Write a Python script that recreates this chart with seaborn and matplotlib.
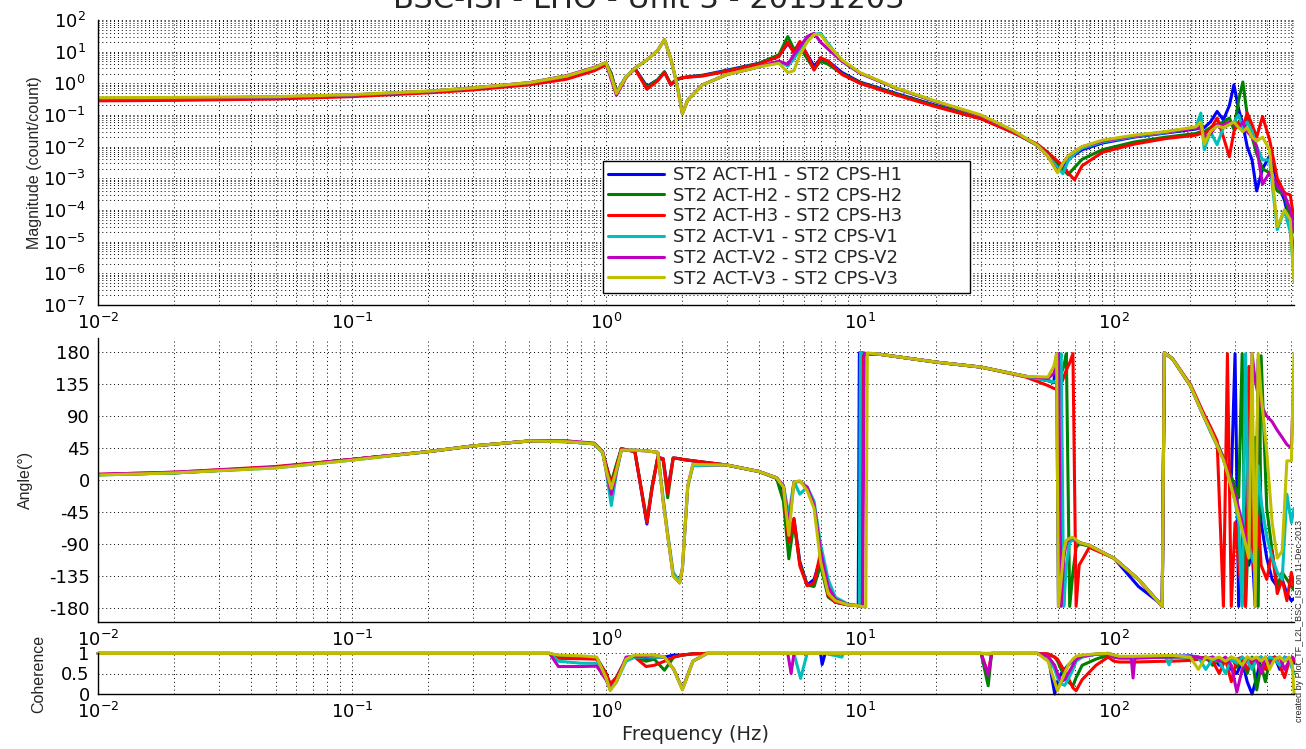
import matplotlib
matplotlib.use("Agg")
import matplotlib.pyplot as plt
from matplotlib.ticker import LogLocator, NullFormatter, NullLocator
import numpy as np
import pandas as pd
import seaborn as sns

# ---------------- data ----------------
series_names = [
    "ST2 ACT-H1 - ST2 CPS-H1",
    "ST2 ACT-H2 - ST2 CPS-H2",
    "ST2 ACT-H3 - ST2 CPS-H3",
    "ST2 ACT-V1 - ST2 CPS-V1",
    "ST2 ACT-V2 - ST2 CPS-V2",
    "ST2 ACT-V3 - ST2 CPS-V3",
]
series_colors = ["#0000ff", "#008000", "#ff0000", "#00bfbf", "#bf00bf", "#bfbf00"]

title_text = "BSC-ISI - LHO - Unit 3 - 20131203"
credit_text = "created by Plot_TF_L2L_BSC_ISI on 11-Dec-2013"

# magnitude panel
freq_mag = [0.01, 0.02, 0.05, 0.1, 0.2, 0.3, 0.5, 0.7, 0.9, 1.0,
            1.05, 1.1, 1.2, 1.3, 1.45, 1.6, 1.7, 1.8, 1.9, 2.0, 2.1, 2.4,
            3.0, 4.0, 4.8, 5.2, 5.5, 5.8, 6.2, 6.6, 7.0, 7.5, 8.5,
            10, 14, 20, 30, 40, 50, 55, 60, 63, 66, 70, 75, 90, 120, 160,
            210, 220, 227, 240, 255, 270, 285, 297, 310, 322, 335, 350, 365, 385, 410, 440, 470, 495, 512]
mag_H1 = [0.32, 0.33, 0.36, 0.42, 0.55, 0.70, 1.0, 1.6, 3.0, 4.5,
          2.0, 0.5, 1.6, 3.0, 0.8, 1.3, 2.3, 0.9, 1.3, 1.5, 1.6, 1.8,
          2.6, 4.3, 7.5, 18, 10, 20, 8, 3.5, 6, 5, 2.2,
          1.1, 0.47, 0.2, 0.085, 0.03, 0.011, 0.006, 0.0025, 0.0018, 0.004, 0.0055, 0.008, 0.013, 0.02, 0.027,
          0.036, 0.04, 0.04, 0.06, 0.13, 0.07, 0.2, 0.9, 0.15, 0.05, 0.01, 0.0038, 0.0004, 0.002, 0.005, 0.0008, 0.0002, 3e-5, 2e-6]
mag_H2 = [0.31, 0.32, 0.35, 0.41, 0.54, 0.68, 0.98, 1.55, 2.9, 4.3,
          2.0, 0.5, 1.6, 2.9, 0.75, 1.3, 2.3, 0.95, 1.3, 1.5, 1.6, 1.75,
          2.5, 4.2, 8, 30, 12, 15, 6, 2.8, 5, 4, 2.0,
          1.05, 0.45, 0.19, 0.082, 0.029, 0.011, 0.0065, 0.003, 0.002, 0.0013, 0.0022, 0.004, 0.008, 0.014, 0.02,
          0.026, 0.03, 0.03, 0.04, 0.05, 0.06, 0.08, 0.035, 0.3, 1.1, 0.1, 0.02, 0.006, 0.002, 0.0015, 0.0004, 0.0003, 5e-5, 3e-6]
mag_H3 = [0.28, 0.29, 0.32, 0.38, 0.50, 0.62, 0.9, 1.35, 2.5, 3.8,
          1.7, 0.5, 1.6, 2.9, 0.65, 1.2, 2.2, 0.9, 1.4, 1.5, 1.55, 1.7,
          2.4, 4.0, 7, 20, 9, 21, 8, 2.6, 6.5, 5, 1.9,
          1.0, 0.42, 0.18, 0.075, 0.028, 0.012, 0.0065, 0.0035, 0.0025, 0.0015, 0.0009, 0.0025, 0.0066, 0.012, 0.018,
          0.023, 0.026, 0.025, 0.035, 0.08, 0.02, 0.0048, 0.03, 0.06, 0.04, 0.115, 0.05, 0.02, 0.09, 0.017, 0.001, 0.00034, 0.0003, 5e-5]
mag_V1 = [0.33, 0.34, 0.37, 0.43, 0.56, 0.72, 1.05, 1.7, 3.1, 4.5,
          1.5, 0.48, 1.6, 3.0, 5.5, 11, 24, 6, 1.0, 0.11, 0.3, 0.9,
          1.9, 3.3, 5, 3.5, 6, 12, 25, 35, 38, 18, 5,
          2.1, 0.68, 0.26, 0.095, 0.032, 0.011, 0.005, 0.0022, 0.0014, 0.0035, 0.006, 0.009, 0.014, 0.021, 0.028,
          0.04, 0.115, 0.008, 0.03, 0.0115, 0.04, 0.05, 0.06, 0.1, 0.04, 0.06, 0.03, 0.01, 0.0038, 0.0038, 2.4e-5, 1e-4, 2e-5, 8e-7]
mag_V2 = [0.33, 0.34, 0.37, 0.43, 0.56, 0.72, 1.05, 1.75, 3.2, 4.5,
          1.3, 0.42, 1.5, 3.0, 5.5, 11, 24, 6, 1.0, 0.11, 0.3, 0.9,
          1.9, 3.3, 5, 4, 8, 14, 30, 38, 20, 12, 5,
          2.1, 0.68, 0.26, 0.095, 0.032, 0.011, 0.005, 0.0016, 0.003, 0.005, 0.007, 0.01, 0.015, 0.022, 0.029,
          0.038, 0.04, 0.02, 0.025, 0.05, 0.05, 0.06, 0.05, 0.04, 0.06, 0.03, 0.02, 0.01, 0.00065, 0.0015, 0.0006, 0.0003, 0.0001, 2e-5]
mag_V3 = [0.35, 0.36, 0.38, 0.44, 0.57, 0.72, 1.05, 1.7, 3.1, 4.6,
          1.6, 0.48, 1.6, 3.0, 5.5, 11, 24, 6, 1.0, 0.11, 0.3, 0.9,
          1.9, 3.3, 4.3, 2.2, 2.5, 8, 20, 35, 35, 16, 5.5,
          2.2, 0.7, 0.27, 0.1, 0.033, 0.011, 0.005, 0.0015, 0.003, 0.005, 0.007, 0.01, 0.016, 0.023, 0.03,
          0.042, 0.06, 0.012, 0.03, 0.045, 0.04, 0.05, 0.06, 0.04, 0.03, 0.04, 0.02, 0.015, 0.02, 0.008, 3e-5, 1e-4, 5e-5, 5.5e-7]

# phase panel (degrees, wrapped to +-180)
freq_phase = [0.01, 0.02, 0.05, 0.1, 0.2, 0.3, 0.5, 0.7, 0.9, 0.97,
              1.0, 1.05, 1.1, 1.15, 1.3, 1.45, 1.52, 1.6, 1.68, 1.75, 1.84, 1.95, 2.0, 2.1, 2.2,
              3.0, 4.0, 4.7, 5.0, 5.25, 5.5, 5.8, 6.2, 6.6, 7.0, 7.5, 8.0, 9.0,
              9.85, 9.95, 10.05, 10.15, 10.25, 10.4, 10.55, 10.7, 12,
              20, 30, 45, 55, 58,
              59.5, 60.5, 62, 63.5, 65, 67, 69, 71, 73, 80,
              100, 125, 150, 155, 158,
              170, 200, 225, 240, 255, 270, 280, 290, 300, 310, 320, 330, 340, 350, 360, 370, 380, 400, 420, 440, 460, 480, 500, 512]
phase_H1 = [7.5, 10, 18, 29, 40, 48, 55, 54, 51, 39,
            22, -5, 20, 44, 40, -62, -10, 32, 30, -15, 31, 30, 29, 28, 27,
            21, 12, 3, -15, -80, -55, -115, -148, -140, -110, -163, -172, -176,
            -177, 179, 179, 178.5, 178.5, 178, 178, 177.5, 177,
            166, 159, 146, 140, 137,
            178, -178, -150, -100, -88, -84, -84, -86, -88, -93,
            -110, -150, -172, -178, 179,
            171, 133, 91, 70, 50, 30, 15, 0, 178, -178, -90, -40, -120, -95, -178, 170, -60, -110, -140, -150, -140, -160, -170, -167]
phase_H2 = [7.5, 10, 18, 29, 40, 48, 55, 54, 51, 39,
            20, -3, 22, 44, 40, -58, -8, 32, 28, -25, 31, 30, 29, 28, 27,
            21, 12, 2, -30, -111, -60, -118, -148, -150, -120, -165, -172, -176,
            -177, -177.5, -178, -178, 179, 178, 178, 177.5, 177,
            166, 159, 146, 140, 138,
            138, 140, 150, 160, 178, -178, -130, -95, -90, -93,
            -110, -140, -172, -178, 179,
            171, 133, 92, 72, 52, 32, 18, 5, -10, -25, 178, -178, -60, 20, 60, -178, 175, -40, -100, -150, -130, -140, -150, -155]
phase_H3 = [8, 11, 19, 29, 40, 48, 55, 55, 51, 40,
            22, -8, 18, 44, 40, -60, -12, 32, 30, -19, 31, 30, 29, 28, 27,
            21, 12, 3, -10, -88, -54, -121, -149, -145, -102, -163, -172, -176,
            -177, -177.5, -178, 179, 178.5, 178, 178, 177.5, 177,
            166, 159, 145, 133, 129,
            128, 128, 135, 145, 155, 165, 178, -178, -120, -95,
            -110, -140, -172, -178, 179,
            171, 135, 95, 75, 55, -178, 178, -178, -60, -120, -160, -178, 160, -100, -140, -50, -120, -140, -100, -160, -140, -170, -130, -150]
phase_V1 = [7, 10, 17, 28, 40, 48, 55, 54, 51, 39,
            15, -36, 10, 42, 42, 41, 40, 39, -25, -75, -130, -143, -125, -10, 20,
            21, 12, 3, -8, -50, -2, -20, -10, -30, -90, -140, -165, -175,
            -177, -177.5, 179, 178.5, 178.5, 178, 178, 177.5, 177,
            166, 159, 146, 140, 138,
            140, 150, 178, -178, -120, -88, -84, -85, -88, -92,
            -110, -140, -172, -178, 179,
            171, 133, 91, 68, 48, 30, 10, -10, -30, -60, -178, 178, -90, -110, -120, 20, -30, -80, -110, -130, -140, -20, -60, -40]
phase_V2 = [8, 11, 18, 29, 40, 48, 55, 55, 52, 40,
            15, -20, 12, 42, 42, 41, 40, 39, -30, -78, -135, -145, -125, -8, 22,
            21, 12, 3, -8, -65, -3, -2, -10, -35, -100, -150, -168, -176,
            -177, -177.5, -178, -178, -178.5, 179, 178, 177.5, 177,
            166, 159, 146, 143, 150,
            160, 178, -178, -110, -88, -83, -82, -85, -88, -92,
            -110, -140, -172, -178, 179,
            171, 133, 92, 70, 50, 30, 12, -5, -20, -40, -60, -80, -100, 178, 140, 120, 105, 90, 82, 70, 60, 50, 45, 150]
phase_V3 = [7, 10, 17, 28, 40, 48, 55, 54, 51, 39,
            15, -12, 14, 42, 42, 41, 40, 39, -30, -78, -135, -145, -125, -8, 22,
            21, 12, 3, -10, -78, -3, -1, -15, -40, -115, -160, -170, -176,
            -177, -177.5, -178, -178, -178.5, -178.5, -179, 179, 177,
            166, 159, 146, 145, 160,
            178, -178, -140, -100, -85, -82, -81, -84, -88, -92,
            -110, -140, -172, -178, 179,
            171, 133, 91, 70, 49, 28, 10, -10, -30, -50, -70, -90, -110, 178, -178, 178, 120, 40, -60, -110, -100, 27, 27, 178]

# coherence panel
freq_coh = [0.01, 0.6, 0.65, 0.8, 0.92, 1.0, 1.04, 1.1, 1.2, 1.3, 1.44, 1.55, 1.7, 1.85, 2.0, 2.2, 2.5,
            5.2, 5.36, 5.5, 5.84, 6.2, 7.0, 7.1, 7.3, 8.5, 8.6, 8.8, 29, 30, 32, 33, 34,
            50, 55, 58.5, 60, 62, 64, 66, 69, 71, 75, 85, 95, 100, 105,
            117, 119, 121, 160, 165, 170, 200, 215, 230, 245, 260, 275, 290, 305, 320, 335, 350, 365, 380, 395, 410, 430, 450, 470, 490, 505, 512]
coh_H1 = [0.99, 0.99, 0.92, 0.9, 0.88, 0.5, 0.2, 0.4, 0.85, 0.92, 0.85, 0.9, 0.9, 0.95, 0.95, 0.98, 0.99,
          0.99, 0.99, 0.99, 0.99, 0.99, 0.99, 0.72, 0.99, 0.99, 0.99, 0.99, 0.99, 0.99, 0.98, 0.99, 0.99,
          0.99, 0.95, 0.0, 0.3, 0.5, 0.6, 0.7, 0.8, 0.85, 0.92, 0.97, 0.99, 0.95, 0.9,
          0.9, 0.9, 0.9, 0.92, 0.92, 0.92, 0.93, 0.9, 0.85, 0.9, 0.7, 0.85, 0.6, 0.5, 0.8, 0.3, 0.0, 0.4, 0.9, 0.7, 0.85, 0.9, 0.6, 0.9, 0.85, 0.8, 0.75]
coh_H2 = [0.99, 0.99, 0.9, 0.88, 0.86, 0.5, 0.22, 0.4, 0.85, 0.9, 0.8, 0.85, 0.58, 0.9, 0.95, 0.98, 0.99,
          0.99, 0.99, 0.99, 0.99, 0.99, 0.99, 0.99, 0.99, 0.99, 0.99, 0.99, 0.99, 0.99, 0.2, 0.99, 0.99,
          0.99, 0.97, 0.9, 0.8, 0.6, 0.45, 0.3, 0.2, 0.4, 0.7, 0.85, 0.95, 0.92, 0.88,
          0.88, 0.88, 0.88, 0.9, 0.9, 0.9, 0.9, 0.85, 0.9, 0.7, 0.85, 0.8, 0.9, 0.65, 0.85, 0.5, 0.9, 0.1, 0.7, 0.3, 0.8, 0.9, 0.7, 0.85, 0.8, 0.85, 0.8]
coh_H3 = [0.99, 0.99, 0.87, 0.86, 0.85, 0.5, 0.25, 0.4, 0.85, 0.9, 0.67, 0.7, 0.8, 0.9, 0.95, 0.98, 0.99,
          0.99, 0.99, 0.99, 0.99, 0.99, 0.99, 0.99, 0.99, 0.99, 0.99, 0.99, 0.99, 0.99, 0.5, 0.99, 0.99,
          0.99, 0.98, 0.9, 0.85, 0.7, 0.55, 0.4, 0.15, 0.08, 0.35, 0.7, 0.9, 0.8, 0.78,
          0.78, 0.78, 0.78, 0.8, 0.8, 0.8, 0.82, 0.85, 0.9, 0.8, 0.5, 0.85, 0.3, 0.85, 0.9, 0.6, 0.8, 0.85, 0.9, 0.6, 0.85, 0.9, 0.7, 0.4, 0.8, 0.85, 0.8]
coh_V1 = [0.99, 0.99, 0.8, 0.75, 0.75, 0.4, 0.1, 0.3, 0.8, 0.9, 0.9, 0.9, 0.9, 0.6, 0.12, 0.8, 0.99,
          0.99, 0.99, 0.99, 0.38, 0.99, 0.99, 0.99, 0.99, 0.9, 0.99, 0.99, 0.99, 0.99, 0.99, 0.99, 0.99,
          0.99, 0.9, 0.6, 0.4, 0.25, 0.21, 0.35, 0.6, 0.8, 0.9, 0.97, 0.99, 0.9, 0.88,
          0.88, 0.88, 0.88, 0.9, 0.71, 0.9, 0.92, 0.9, 0.6, 0.85, 0.8, 0.5, 0.85, 0.75, 0.9, 0.8, 0.6, 0.85, 0.9, 0.8, 0.9, 0.85, 0.7, 0.9, 0.8, 0.6, 0.5]
coh_V2 = [0.99, 0.99, 0.67, 0.67, 0.68, 0.35, 0.12, 0.3, 0.9, 0.92, 0.92, 0.95, 0.9, 0.6, 0.12, 0.8, 0.99,
          0.99, 0.5, 0.99, 0.99, 0.99, 0.99, 0.99, 0.99, 0.99, 0.99, 0.99, 0.99, 0.99, 0.46, 0.99, 0.99,
          0.99, 0.92, 0.7, 0.5, 0.3, 0.35, 0.5, 0.7, 0.85, 0.92, 0.97, 0.99, 0.9, 0.88,
          0.88, 0.39, 0.88, 0.9, 0.9, 0.9, 0.92, 0.9, 0.85, 0.9, 0.8, 0.9, 0.7, 0.05, 0.6, 0.9, 0.8, 0.85, 0.5, 0.9, 0.7, 0.85, 0.9, 0.6, 0.8, 0.9, 0.85]
coh_V3 = [0.99, 0.99, 0.95, 0.93, 0.9, 0.4, 0.08, 0.3, 0.85, 0.95, 0.95, 0.95, 0.9, 0.6, 0.1, 0.8, 0.99,
          0.99, 0.99, 0.99, 0.99, 0.99, 0.99, 0.99, 0.99, 0.99, 0.99, 0.99, 0.99, 0.99, 0.99, 0.99, 0.99,
          0.99, 0.8, 0.3, 0.08, 0.3, 0.5, 0.7, 0.85, 0.92, 0.95, 0.98, 0.99, 0.95, 0.92,
          0.92, 0.92, 0.92, 0.94, 0.94, 0.94, 0.9, 0.6, 0.9, 0.85, 0.9, 0.8, 0.9, 0.85, 0.7, 0.9, 0.85, 0.9, 0.8, 0.9, 0.6, 0.85, 0.9, 0.8, 0.9, 0.7, 0.0]

angle_ticks = [-180, -135, -90, -45, 0, 45, 90, 135, 180]
coh_ticks = [0, 0.5, 1]
coh_tick_labels = ["0", "0.5", "1"]


def long_form(freq, columns, value_name):
    frames = [pd.DataFrame({"freq": freq, value_name: vals, "series": name})
              for name, vals in zip(series_names, columns)]
    return pd.concat(frames, ignore_index=True)


df_mag = long_form(freq_mag, [mag_H1, mag_H2, mag_H3, mag_V1, mag_V2, mag_V3], "mag")
df_phase = long_form(freq_phase, [phase_H1, phase_H2, phase_H3, phase_V1, phase_V2, phase_V3], "phase")
df_coh = long_form(freq_coh, [coh_H1, coh_H2, coh_H3, coh_V1, coh_V2, coh_V3], "coh")

# ---------------- style ----------------
sns.set_style("white")
plt.rcParams["font.family"] = ["DejaVu Sans"]
plt.rcParams["axes.unicode_minus"] = False
plt.rcParams["mathtext.default"] = "regular"

W, H = 1306, 749
fig = plt.figure(figsize=(W / 100, H / 100), dpi=100)
fig.patch.set_facecolor("white")


def px_axes(left, top, right, bottom):
    return fig.add_axes([left / W, 1 - bottom / H, (right - left) / W, (bottom - top) / H])


ax_mag = px_axes(98, 20, 1294, 305)
ax_ph = px_axes(98, 338, 1294, 622)
ax_coh = px_axes(98, 653, 1294, 694)

grid_kw = dict(color="black", linestyle=(0, (1, 3.0)), linewidth=0.7)
LW = 2.2

for ax in (ax_mag, ax_ph, ax_coh):
    ax.set_facecolor("none")
    ax.set_xscale("log")
ax_mag.set_yscale("log")

sns.lineplot(data=df_mag, x="freq", y="mag", hue="series", hue_order=series_names,
             palette=series_colors, estimator=None, sort=False, linewidth=LW, ax=ax_mag, legend=True)
sns.lineplot(data=df_phase, x="freq", y="phase", hue="series", hue_order=series_names,
             palette=series_colors, estimator=None, sort=False, linewidth=LW, ax=ax_ph, legend=False)
sns.lineplot(data=df_coh, x="freq", y="coh", hue="series", hue_order=series_names,
             palette=series_colors, estimator=None, sort=False, linewidth=LW, ax=ax_coh, legend=False)

for ax in (ax_mag, ax_ph, ax_coh):
    ax.set_xlim(0.01, 512)
    ax.xaxis.set_major_locator(LogLocator(base=10, numticks=20))
    ax.xaxis.set_minor_locator(LogLocator(base=10, subs=np.arange(2, 10), numticks=100))
    ax.xaxis.set_minor_formatter(NullFormatter())
    ax.set_axisbelow(True)
    ax.tick_params(which="both", direction="in", top=False, right=False,
                   labelsize=13, colors="black")
    ax.tick_params(which="major", length=8.5, width=0.8)
    ax.tick_params(which="minor", length=4, width=0.6)
    ax.tick_params(axis="x", which="major", pad=6)
    ax.tick_params(axis="y", which="major", pad=6)
    for s in ("top", "right"):
        ax.spines[s].set_visible(False)
    for s in ("left", "bottom"):
        ax.spines[s].set_linewidth(1.0)
        ax.spines[s].set_color("black")
    ax.set_xlabel("")
    ax.set_ylabel("")

# magnitude axes
ax_mag.set_ylim(1e-7, 1e2)
ax_mag.yaxis.set_major_locator(LogLocator(base=10, numticks=20))
ax_mag.yaxis.set_minor_locator(LogLocator(base=10, subs=np.arange(2, 10), numticks=100))
ax_mag.yaxis.set_minor_formatter(NullFormatter())
ax_mag.tick_params(axis="y", which="major", pad=9)
ax_mag.grid(True, which="both", axis="both", **grid_kw)

# angle axes
ax_ph.set_ylim(-200, 200)
ax_ph.set_yticks(angle_ticks)
ax_ph.yaxis.set_minor_locator(NullLocator())
ax_ph.grid(True, which="major", axis="both", **grid_kw)
ax_ph.grid(True, which="minor", axis="x", **grid_kw)

# coherence axes
ax_coh.set_ylim(0, 1)
ax_coh.set_yticks(coh_ticks, labels=coh_tick_labels)
ax_coh.yaxis.set_minor_locator(NullLocator())
ax_coh.grid(True, which="major", axis="both", **grid_kw)
ax_coh.grid(True, which="minor", axis="x", **grid_kw)
for line in ax_coh.get_lines():
    line.set_clip_on(False)

# labels
ylab_font = dict(family="Liberation Sans", fontsize=11.5)
ax_mag.set_ylabel("Magnitude (count/count)", **ylab_font)
ax_mag.yaxis.set_label_coords(-0.0468, 0.5)
ax_ph.set_ylabel("Angle(°)", **ylab_font)
ax_ph.yaxis.set_label_coords(-0.0543, 0.5)
ax_coh.set_ylabel("Coherence", **ylab_font)
ax_coh.yaxis.set_label_coords(-0.0430, 0.5)
ax_coh.set_xlabel("Frequency (Hz)", fontsize=14, labelpad=2)

# legend
old = ax_mag.get_legend()
handles = list(old.legend_handles)
labels = [t.get_text() for t in old.get_texts()]
leg = ax_mag.legend(handles, labels, loc="lower left",
                    bbox_to_anchor=(0.4222, 0.0421, 0.3068, 0.51), mode="expand",
                    fontsize=13, handlelength=3.1, handletextpad=0.5, labelspacing=0.15,
                    borderpad=0.3, borderaxespad=0, frameon=True, fancybox=False,
                    edgecolor="black", framealpha=1)
leg.get_frame().set_linewidth(1.0)
for h in leg.legend_handles:
    h.set_linewidth(LW)

# title (partly above the top edge, as in the reference) and credit line
fig.text(649 / W, 1 - 8 / H, title_text, ha="center", va="baseline", fontsize=22)
fig.text(1300 / W, 1 - 722 / H, credit_text, rotation=90, ha="center", va="bottom",
         fontsize=6.5, family="Liberation Sans")

fig.savefig("out.png", dpi=100, facecolor="white")
